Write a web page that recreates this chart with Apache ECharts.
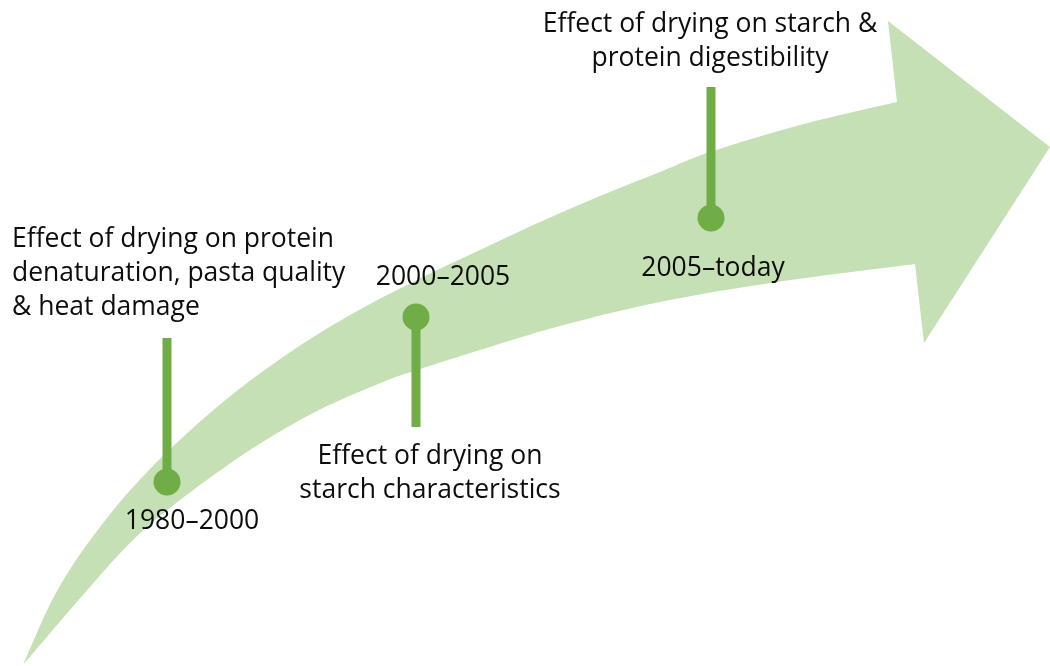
<!DOCTYPE html>
<html><head><meta charset="utf-8">
<script src="https://cdn.jsdelivr.net/npm/echarts@6/dist/echarts.min.js"></script>
<style>html,body{margin:0;padding:0;background:#fff}#c{width:1050px;height:666px}</style>
</head><body><div id="c"></div>
<script>
// Arrow outline (diagram coordinates, y grows downward)
const upperEdge = [[23,665],[57,591],[100,527],[150,469],[217,407],[283,357],[350,315],[417,280],[480,250],[540,222],[600,196],[660,172],[710,152],[800,125],[897,102]];
const lowerEdge = [[23,665],[83,595],[133,540],[180,500],[250,450],[317,411],[383,382],[417,370],[480,350],[560,326],[660,302],[777,282],[915,264]];
const arrowHead = [[897,102],[888,21],[1050,147],[924,343],[915,264]];

// Timeline milestones
const periods = ['1980–2000','2000–2005','2005–today'];
const topics = ['Effect of drying on protein\ndenaturation, pasta quality\n& heat damage','Effect of drying on\nstarch characteristics','Effect of drying on starch &\nprotein digestibility'];
const dotX = [167,416,711];
const dotY = [482,317,218];
const stemEndY = [338,427,87];
const periodX = [192,443,713];
const periodY = [521,277,268];
const topicX = [12,430,710];
const topicY = [273,473,41];
const topicAlign = ['left','center','center'];

const FONT = '26.5px "Open Sans"';
const LINE_H = 34;

function spline(pts){
  let d = '';
  for (let i=0;i<pts.length-1;i++){
    const p0=pts[Math.max(i-1,0)], p1=pts[i], p2=pts[i+1], p3=pts[Math.min(i+2,pts.length-1)];
    const c1=[p1[0]+(p2[0]-p0[0])/6, p1[1]+(p2[1]-p0[1])/6];
    const c2=[p2[0]-(p3[0]-p1[0])/6, p2[1]-(p3[1]-p1[1])/6];
    d += ' C'+c1[0]+','+c1[1]+' '+c2[0]+','+c2[1]+' '+p2[0]+','+p2[1];
  }
  return d;
}

const chart = echarts.init(document.getElementById('c'), null, {renderer:'canvas'});
const textData = [];
periods.forEach((t,i)=>textData.push({value:[periodX[i],periodY[i]], text:t, align:'center'}));
topics.forEach((t,i)=>textData.push({value:[topicX[i],topicY[i]], text:t, align:topicAlign[i]}));

chart.setOption({
  animation:false,
  backgroundColor:'#ffffff',
  grid:{left:0,right:0,top:0,bottom:0},
  xAxis:{type:'value',min:0,max:1050,show:false},
  yAxis:{type:'value',min:0,max:666,inverse:true,show:false},
  tooltip:{show:false},
  series:[
    {
      type:'custom', silent:true, z:1,
      data:[[0,0]],
      renderItem:function(params, api){
        const up = upperEdge.map(p=>api.coord(p));
        const lo = lowerEdge.slice().reverse().map(p=>api.coord(p));
        const hd = arrowHead.map(p=>api.coord(p));
        let d = 'M'+up[0][0]+','+up[0][1] + spline(up);
        hd.slice(1).forEach(p=>{ d += ' L'+p[0]+','+p[1]; });
        d += ' L'+lo[0][0]+','+lo[0][1] + spline(lo) + ' Z';
        return {type:'path', shape:{pathData:d}, style:{fill:'#c5e0b4', stroke:null}};
      }
    },
    {
      type:'custom', silent:true, z:2,
      data: dotX.map((x,i)=>[x,dotY[i],stemEndY[i]]),
      renderItem:function(params, api){
        const a = api.coord([api.value(0), api.value(1)]);
        const b = api.coord([api.value(0), api.value(2)]);
        return {type:'line', shape:{x1:a[0],y1:a[1],x2:b[0],y2:b[1]}, style:{stroke:'#70ad47', lineWidth:9}};
      }
    },
    {
      type:'scatter', silent:true, z:3,
      symbolSize:27,
      itemStyle:{color:'#70ad47', opacity:1},
      data: dotX.map((x,i)=>[x,dotY[i]])
    },
    {
      type:'custom', silent:true, z:4,
      data: textData,
      renderItem:function(params, api){
        const item = textData[params.dataIndex];
        const p = api.coord(item.value);
        return {type:'text', x:p[0], y:p[1], style:{text:item.text, fill:'#0d0d0d', font:FONT, align:item.align, verticalAlign:'middle', lineHeight:LINE_H}};
      }
    }
  ]
});
</script>
</body></html>
